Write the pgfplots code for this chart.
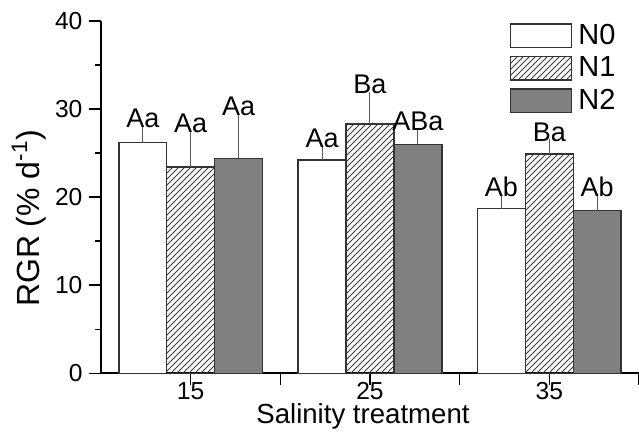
\documentclass[border=0pt]{standalone}
\usepackage{pgfplots}
\pgfplotsset{compat=1.18}
\usepackage{pgfplotstable}
\usetikzlibrary{patterns}
\usepackage{fontspec}
\setmainfont{Liberation Sans}

\pgfplotstableread{
x     y     e    lab
12.33 26.2  1.3  Aa
22.33 24.2  1.0  Aa
32.33 18.7  1.0  Ab
}\tblA
\pgfplotstableread{
x     y     e    lab
15    23.4  3.5  Aa
25    28.3  3.0  Ba
35    24.9  1.0  Ba
}\tblB
\pgfplotstableread{
x     y     e    lab
17.67 24.4  4.4  Aa
27.67 26.0  1.2  ABa
37.67 18.5  1.2  Ab
}\tblC

\pgfplotsset{labstyle/.style={forget plot, draw=none, fill=none, nodes near coords, point meta=explicit symbolic,
  nodes near coords style={anchor=south, inner sep=1.5pt, font=\fontsize{13.5}{15}\selectfont, black}}}

\begin{document}
\begin{tikzpicture}[font=\fontsize{12.3}{14}\selectfont]
\begin{axis}[
  name=ax,
  scale only axis,
  width=269pt, height=176.15pt,
  xmin=10, xmax=40, ymin=0, ymax=40,
  axis x line*=bottom, axis y line*=left,
  axis line style={-, line width=1pt, black},
  xtick={15,20,25,30,35,40},
  xticklabels={15,,25,,35,},
  ytick={0,10,20,30,40},
  minor ytick={5,15,25,35},
  xtick align=inside, ytick align=outside,
  major tick length=5.75pt, minor tick length=3pt,
  tick style={line width=0.75pt, black},
  /pgf/number format/assume math mode=true,
  ticklabel style={font=\fontsize{12.3}{14}\selectfont},
  xticklabel style={anchor=base, yshift=-7.3pt},
  xlabel={Salinity treatment},
  ylabel={RGR (\% d\textsuperscript{-1})},
  xlabel style={at={(axis description cs:0.487,-0.142)}, anchor=base, font=\fontsize{13.8}{16}\selectfont},
  ylabel style={at={(axis description cs:-0.134,0.44)}, anchor=center, font=\fontsize{16}{18}\selectfont},
  ybar, bar width=2.67, bar shift=0pt,
  clip=false,
  legend image code/.code={\draw[#1, line width=0.75pt] (0pt,-5.85pt) rectangle (30.5pt,5.85pt);},
  legend style={draw=none, fill=none, at={(axis description cs:0.760,0.9935)}, anchor=north west,
    inner sep=0pt, outer sep=0pt, row sep=3.8pt, column sep=3pt,
    nodes={inner sep=0pt, font=\fontsize{14.5}{16}\selectfont}},
  legend cell align=left,
]
\addplot[draw=black!80, line width=0.75pt, fill=white,
  error bars/.cd, y dir=plus, y explicit,
  error bar style={line width=0.5pt, black!65},
  error mark options={line width=0.5pt, mark size=3pt, black!65}]
  table[x=x, y=y, y error=e] {\tblA};
\addlegendentry{N0}
\addplot[draw=black!80, line width=0.75pt, pattern=north east lines, pattern color=black!75,
  error bars/.cd, y dir=plus, y explicit,
  error bar style={line width=0.5pt, black!65},
  error mark options={line width=0.5pt, mark size=3pt, black!65}]
  table[x=x, y=y, y error=e] {\tblB};
\addlegendentry{N1}
\addplot[draw=black!80, line width=0.75pt, fill=black!50,
  error bars/.cd, y dir=plus, y explicit,
  error bar style={line width=0.5pt, black!65},
  error mark options={line width=0.5pt, mark size=3pt, black!65}]
  table[x=x, y=y, y error=e] {\tblC};
\addlegendentry{N2}
\addplot[labstyle] table[x=x, y expr=\thisrow{y}+\thisrow{e}, meta=lab] {\tblA};
\addplot[labstyle] table[x=x, y expr=\thisrow{y}+\thisrow{e}, meta=lab] {\tblB};
\addplot[labstyle] table[x=x, y expr=\thisrow{y}+\thisrow{e}, meta=lab] {\tblC};
\end{axis}
\pgfresetboundingbox
\path[use as bounding box] ([shift={(-50.5pt,-31.35pt)}]ax.south west) rectangle ([shift={(269pt,186.65pt)}]ax.south west);
\end{tikzpicture}
\end{document}
